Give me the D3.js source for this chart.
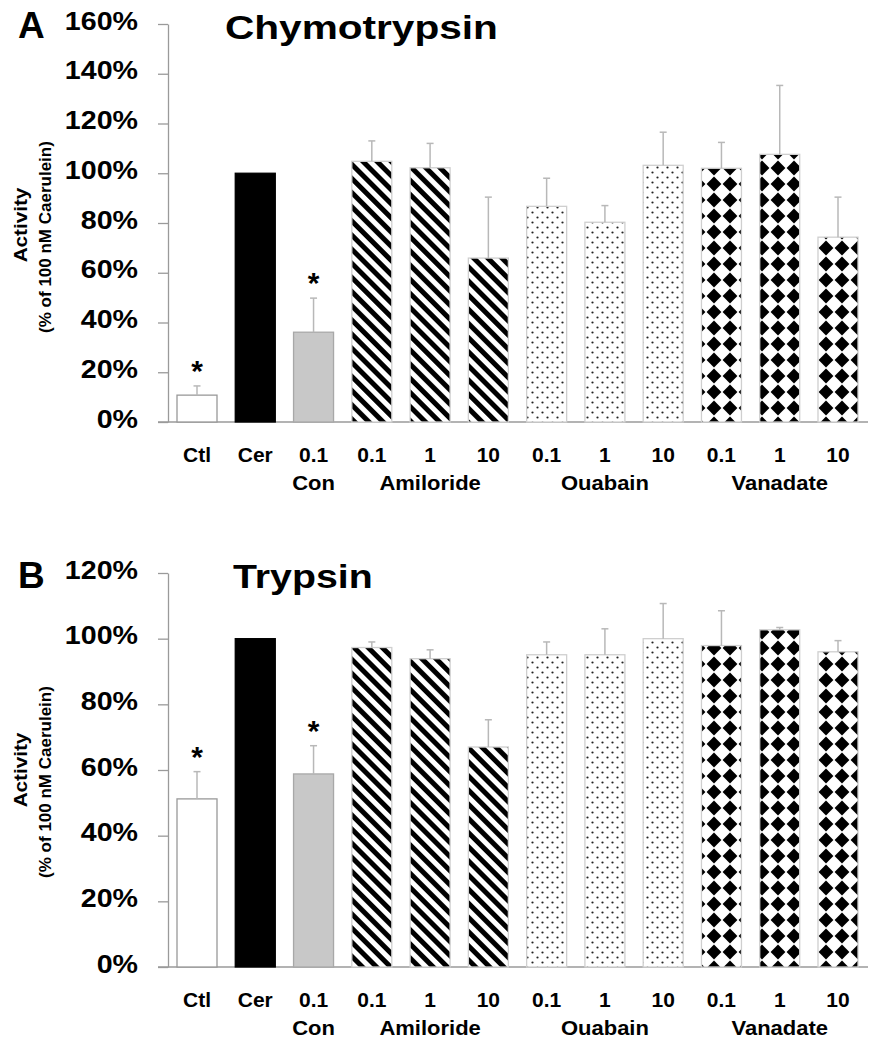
<!DOCTYPE html>
<html><head><meta charset="utf-8">
<script src="https://cdn.jsdelivr.net/npm/d3@7"></script>
<style>
body{margin:0;background:#fff;}
text{font-family:"Liberation Sans",Arial,Helvetica,sans-serif;font-weight:bold;fill:#000;}
</style></head><body>
<svg id="chart" width="877" height="1050" xmlns="http://www.w3.org/2000/svg"></svg>
<script>
// ---------- data ----------
const categories = ["Ctl","Cer","0.1","0.1","1","10","0.1","1","10","0.1","1","10"];
const treatments = ["Ctl","Cer","Con","Amiloride","Amiloride","Amiloride","Ouabain","Ouabain","Ouabain","Vanadate","Vanadate","Vanadate"];
const groupLabels = ["Con","Amiloride","Ouabain","Vanadate"];
const groupCenterIndex = [2,4,7,10];

const chymoMean = [0.108, 1.000, 0.361, 1.048, 1.022, 0.659, 0.867, 0.803, 1.032, 1.020, 1.076, 0.743];
const chymoErr  = [0.037, 0.000, 0.137, 0.082, 0.098, 0.245, 0.113, 0.067, 0.133, 0.104, 0.277, 0.161];
const chymoStar = [true, false, true, false, false, false, false, false, false, false, false, false];
const chymoTicks = [0, 0.2, 0.4, 0.6, 0.8, 1.0, 1.2, 1.4, 1.6];

const trypMean = [0.512, 1.000, 0.588, 0.973, 0.939, 0.670, 0.951, 0.951, 1.000, 0.979, 1.027, 0.960];
const trypErr  = [0.083, 0.000, 0.086, 0.017, 0.027, 0.083, 0.039, 0.079, 0.107, 0.106, 0.007, 0.034];
const trypStar = [true, false, true, false, false, false, false, false, false, false, false, false];
const trypTicks = [0, 0.2, 0.4, 0.6, 0.8, 1.0, 1.2];

// ---------- layout ----------
const svg = d3.select("#chart");
const axisX = 168;
const x = d3.scalePoint().domain(d3.range(categories.length)).range([197, 838]);
const barW = 40;

const defs = svg.append("defs");
// diagonal stripes (Amiloride)
const st = defs.append("pattern").attr("id","stripes").attr("patternUnits","userSpaceOnUse")
  .attr("width",10).attr("height",10).attr("patternTransform","rotate(-45)");
st.append("rect").attr("width",10).attr("height",10).attr("fill","#fff");
st.append("rect").attr("width",5).attr("height",10).attr("fill","#000");
// dots (Ouabain)
const dt = defs.append("pattern").attr("id","dots").attr("patternUnits","userSpaceOnUse")
  .attr("width",10).attr("height",10);
dt.append("rect").attr("width",10).attr("height",10).attr("fill","#fff");
dt.append("circle").attr("cx",2.5).attr("cy",2.5).attr("r",1.1).attr("fill","#222");
dt.append("circle").attr("cx",7.5).attr("cy",7.5).attr("r",1.1).attr("fill","#222");
// diamonds (Vanadate)
const dm = defs.append("pattern").attr("id","diamonds").attr("patternUnits","userSpaceOnUse")
  .attr("width",16).attr("height",16).attr("x",2).attr("y",0);
dm.append("rect").attr("width",16).attr("height",16).attr("fill","#fff");
dm.append("path").attr("d","M8,0.6 L15.4,8 L8,15.4 L0.6,8 Z").attr("fill","#000");

const fillOf = {Ctl:"#ffffff", Cer:"#000000", Con:"#c8c8c8", Amiloride:"url(#stripes)", Ouabain:"url(#dots)", Vanadate:"url(#diamonds)"};
const strokeOf = {Ctl:"#999", Cer:"#000", Con:"#a8a8a8", Amiloride:"#cfcfcf", Ouabain:"#cfcfcf", Vanadate:"#cfcfcf"};

const panels = [
  {letter:"A", letterY:38, title:"Chymotrypsin", titleX:225, titleY:39, titleSx:1.23,
   mean:chymoMean, err:chymoErr, star:chymoStar, ticks:chymoTicks, yMax:1.6, top:24, bottom:422},
  {letter:"B", letterY:588, title:"Trypsin", titleX:233, titleY:588, titleSx:1.19,
   mean:trypMean, err:trypErr, star:trypStar, ticks:trypTicks, yMax:1.2, top:573, bottom:967}
];

panels.forEach(p => {
  const g = svg.append("g");
  const y = d3.scaleLinear().domain([0, p.yMax]).range([p.bottom, p.top]);

  // y axis
  const ax = g.append("g").attr("transform", `translate(${axisX},0)`)
    .call(d3.axisLeft(y).tickValues(p.ticks).tickSize(10).tickSizeOuter(0).tickFormat(d3.format(".0%")));
  ax.select(".domain").attr("stroke","#9a9a9a").attr("stroke-width",1.3);
  ax.selectAll(".tick line").attr("stroke","#9a9a9a").attr("stroke-width",1.3);
  ax.selectAll(".tick text")
    .attr("x",0).attr("dy","0.35em")
    .attr("transform","translate(-30,-4) scale(1.1,1)")
    .style("font-size","26px").style("font-family","'Liberation Sans',Arial,sans-serif")
    .style("font-weight","bold").attr("fill","#000");

  // x baseline
  g.append("line").attr("x1", axisX-10).attr("x2", x(categories.length-1)+30)
    .attr("y1", y(0)).attr("y2", y(0)).attr("stroke","#9a9a9a").attr("stroke-width",1.3);

  // bars
  const idx = d3.range(categories.length);
  g.selectAll("rect.bar").data(idx).join("rect").attr("class","bar")
    .attr("x", i => x(i)-barW/2).attr("width", barW)
    .attr("y", i => y(p.mean[i])).attr("height", i => y(0)-y(p.mean[i]))
    .attr("fill", i => fillOf[treatments[i]])
    .attr("stroke", i => strokeOf[treatments[i]]).attr("stroke-width",1.3);

  // error bars (upper only)
  const ei = idx.filter(i => p.err[i] > 0);
  g.selectAll("line.err").data(ei).join("line").attr("class","err")
    .attr("x1", i => x(i)).attr("x2", i => x(i))
    .attr("y1", i => y(p.mean[i])).attr("y2", i => y(p.mean[i]+p.err[i]))
    .attr("stroke","#b8b8b8").attr("stroke-width",1.5);
  g.selectAll("line.cap").data(ei).join("line").attr("class","cap")
    .attr("x1", i => x(i)-3.5).attr("x2", i => x(i)+3.5)
    .attr("y1", i => y(p.mean[i]+p.err[i])).attr("y2", i => y(p.mean[i]+p.err[i]))
    .attr("stroke","#b8b8b8").attr("stroke-width",1.5);

  // significance stars
  g.selectAll("text.star").data(idx.filter(i => p.star[i])).join("text").attr("class","star")
    .attr("x", i => x(i)).attr("y", i => y(p.mean[i]+p.err[i]) - 5)
    .attr("text-anchor","middle").style("font-size","30px").text("*");

  // category labels
  g.selectAll("text.cat").data(idx).join("text").attr("class","cat")
    .attr("transform", i => `translate(${x(i)},${y(0)+40}) scale(1.05,1)`)
    .attr("text-anchor","middle").style("font-size","20px").text(i => categories[i]);
  g.selectAll("text.grp").data(d3.range(groupLabels.length)).join("text").attr("class","grp")
    .attr("transform", k => `translate(${x(groupCenterIndex[k])},${y(0)+68}) scale(1.1,1)`)
    .attr("text-anchor","middle").style("font-size","20px").text(k => groupLabels[k]);

  // y titles
  g.append("text").attr("transform", `translate(27,${y(0)-197}) rotate(-90) scale(1.15,1)`)
    .attr("text-anchor","middle").style("font-size","18px").text("Activity");
  g.append("text").attr("transform", `translate(51,${y(0)-185}) rotate(-90) scale(1.0,1)`)
    .attr("text-anchor","middle").style("font-size","17px").text("(% of 100 nM Caerulein)");

  // title & panel letter
  g.append("text").attr("transform", `translate(${p.titleX},${p.titleY}) scale(${p.titleSx},1)`)
    .style("font-size","33px").text(p.title);
  g.append("text").attr("x",18).attr("y",p.letterY).style("font-size","37px").text(p.letter);
});
</script>
</body></html>
